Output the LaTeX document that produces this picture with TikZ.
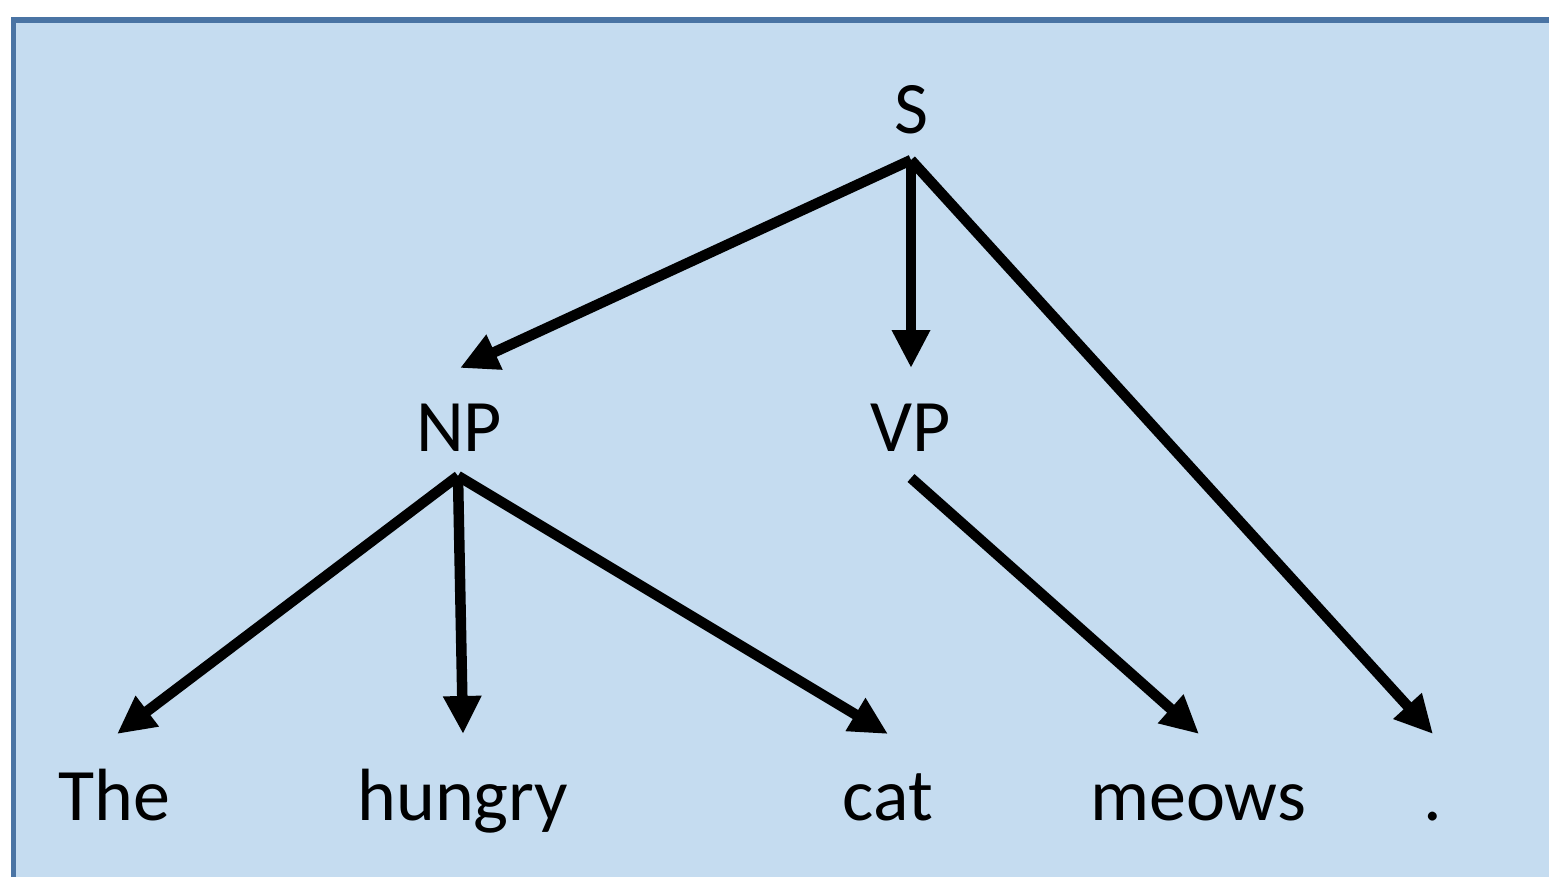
\documentclass[tikz,border=0pt]{standalone}
\usepackage{fontspec}
\setmainfont{Carlito}
\usetikzlibrary{arrows.meta}
\definecolor{bgfill}{HTML}{C5DCF0}
\definecolor{bgline}{HTML}{4A74A4}
\begin{document}
\begin{tikzpicture}[x=1pt,y=-1pt,
  word/.style={inner sep=0pt,font=\fontsize{74}{80}\selectfont,anchor=base},
  edge/.style={line width=10.5pt,-{Triangle[length=38pt,width=36pt]}}]
\useasboundingbox (0,0) rectangle (1549,877);
\begin{scope}
\clip (0,0) rectangle (1549,877);
\draw[fill=bgfill,draw=bgline,line width=5.5pt] (13.5,20) rectangle (1570,900);
\end{scope}
% words
\node[word] (S) at (911,134) {S};
\node[word] (NP) at (459,451) {NP};
\node[word] (VP) at (911,451) {VP};
\node[word] (The) at (114,820) {The};
\node[word] (hungry) at (463,820) {hungry};
\node[word] (cat) at (888,820) {cat};
\node[word] (meows) at (1198,820) {meows};
\node[word] (dot) at (1433,820) {.};
% connector ends
\coordinate (Sb) at (911,160);
\coordinate (NPt) at (460,368);
\coordinate (VPt) at (911,368);
\coordinate (NPb) at (458,476);
\coordinate (VPb) at (911,478);
\coordinate (Thet) at (117,734);
\coordinate (hungryt) at (463,734);
\coordinate (catt) at (888,734);
\coordinate (meowst) at (1199,734);
\coordinate (dott) at (1433,734);
\draw[edge] (Sb) -- (NPt);
\draw[edge] (Sb) -- (VPt);
\draw[edge] (Sb) -- (dott);
\draw[edge] (NPb) -- (Thet);
\draw[edge] (NPb) -- (hungryt);
\draw[edge] (NPb) -- (catt);
\draw[edge] (VPb) -- (meowst);
\end{tikzpicture}
\end{document}
